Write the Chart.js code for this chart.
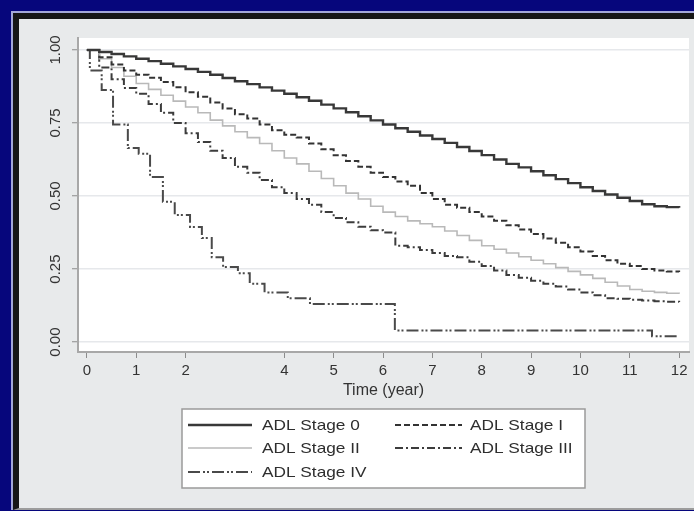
<!DOCTYPE html>
<html>
<head>
<meta charset="utf-8">
<script src="https://cdn.jsdelivr.net/npm/chart.js@4/dist/chart.umd.min.js"></script>
<style>
  html, body { margin: 0; padding: 0; }
  body { width: 694px; height: 511px; background: #06067c; position: relative; overflow: hidden; }
  #frame { position: absolute; left: 11px; top: 11px; right: -20px; bottom: 1px; border-left: 2px solid #a3a7d8; border-top: 2px solid #a3a7d8; }
  #panel { position: absolute; left: 0; top: 0; right: 0; bottom: 0; background: #e8eaeb; border-left: 6px solid #161616; border-top: 6px solid #161616; border-bottom: 2px solid #9c9c9c; }
  #wrap { position: absolute; left: 0; top: 0; width: 694px; height: 511px; }
</style>
</head>
<body>
<div id="frame"><div id="panel"></div></div>
<div id="wrap"><canvas id="grafico-sobrevida" width="694" height="511"></canvas></div>
<script>
// tempos (anos) das curvas de Kaplan-Meier, lidos a cada 0,25 ano
const tempos = [0, 0.25, 0.5, 0.75, 1, 1.25, 1.5, 1.75, 2, 2.25, 2.5, 2.75, 3, 3.25, 3.5, 3.75, 4, 4.25, 4.5, 4.75, 5, 5.25, 5.5, 5.75, 6, 6.25, 6.5, 6.75, 7, 7.25, 7.5, 7.75, 8, 8.25, 8.5, 8.75, 9, 9.25, 9.5, 9.75, 10, 10.25, 10.5, 10.75, 11, 11.25, 11.5, 11.75, 12];
const estagio0   = [1.000, 0.993, 0.986, 0.978, 0.970, 0.962, 0.953, 0.944, 0.935, 0.925, 0.915, 0.904, 0.893, 0.883, 0.872, 0.861, 0.850, 0.838, 0.826, 0.813, 0.800, 0.787, 0.773, 0.759, 0.745, 0.732, 0.720, 0.707, 0.695, 0.682, 0.668, 0.654, 0.640, 0.625, 0.610, 0.598, 0.585, 0.571, 0.558, 0.544, 0.530, 0.517, 0.505, 0.494, 0.483, 0.472, 0.465, 0.462, 0.460];
const estagioI   = [1.000, 0.975, 0.950, 0.930, 0.915, 0.905, 0.890, 0.872, 0.855, 0.840, 0.820, 0.800, 0.780, 0.765, 0.745, 0.725, 0.710, 0.700, 0.680, 0.660, 0.640, 0.620, 0.600, 0.580, 0.565, 0.550, 0.535, 0.510, 0.490, 0.470, 0.460, 0.445, 0.430, 0.415, 0.400, 0.385, 0.370, 0.355, 0.340, 0.325, 0.310, 0.295, 0.280, 0.268, 0.260, 0.250, 0.245, 0.242, 0.240];
const estagioII  = [1.000, 0.970, 0.940, 0.910, 0.885, 0.865, 0.845, 0.825, 0.805, 0.785, 0.760, 0.740, 0.720, 0.700, 0.680, 0.655, 0.630, 0.610, 0.585, 0.560, 0.535, 0.510, 0.490, 0.465, 0.445, 0.430, 0.415, 0.405, 0.395, 0.380, 0.365, 0.348, 0.330, 0.318, 0.305, 0.292, 0.280, 0.268, 0.255, 0.242, 0.230, 0.218, 0.205, 0.192, 0.180, 0.174, 0.170, 0.167, 0.165];
const estagioIII = [1.000, 0.940, 0.900, 0.870, 0.850, 0.815, 0.785, 0.750, 0.715, 0.685, 0.655, 0.630, 0.600, 0.580, 0.555, 0.530, 0.510, 0.490, 0.470, 0.445, 0.425, 0.410, 0.395, 0.383, 0.375, 0.330, 0.325, 0.315, 0.305, 0.295, 0.290, 0.275, 0.260, 0.245, 0.230, 0.220, 0.210, 0.200, 0.190, 0.180, 0.170, 0.160, 0.150, 0.148, 0.145, 0.142, 0.140, 0.138, 0.137];
// estágio IV tem degraus grandes, com tempos próprios
const temposIV  = [0, 0.06, 0.3, 0.53, 0.83, 1.05, 1.28, 1.54, 1.78, 2.09, 2.33, 2.53, 2.76, 3.06, 3.3, 3.6, 4.07, 4.52, 6.24, 11.45, 12];
const estagioIV = [1.00, 0.93, 0.863, 0.745, 0.664, 0.645, 0.565, 0.48, 0.435, 0.394, 0.356, 0.29, 0.257, 0.236, 0.20, 0.17, 0.15, 0.13, 0.04, 0.02, 0.02];

const rotulosSeries = ['ADL Stage 0', 'ADL Stage I', 'ADL Stage II', 'ADL Stage III', 'ADL Stage IV'];
const ticksX = [0, 1, 2, 4, 5, 6, 7, 8, 9, 10, 11, 12];
const ticksY = [0, 0.25, 0.5, 0.75, 1];

const fonte = "'Liberation Sans', Arial, sans-serif";
const pares = (xs, ys) => xs.map((x, i) => ({ x: x, y: ys[i] }));

const estilos = [
  { borderColor: '#383838', borderWidth: 2.4, borderDash: [] },
  { borderColor: '#333333', borderWidth: 2, borderDash: [6, 3] },
  { borderColor: '#b9b9b9', borderWidth: 1.6, borderDash: [] },
  { borderColor: '#3c3c3c', borderWidth: 2, borderDash: [8, 3, 2, 3] },
  { borderColor: '#4a4a4a', borderWidth: 2, borderDash: [12, 3, 2, 2, 2, 3] }
];
const dadosSeries = [
  pares(tempos, estagio0), pares(tempos, estagioI), pares(tempos, estagioII),
  pares(tempos, estagioIII), pares(temposIV, estagioIV)
];

const fundoPlot = {
  id: 'fundoPlot',
  beforeDraw(chart) {
    const { ctx, chartArea: a } = chart;
    ctx.save();
    ctx.fillStyle = '#ffffff';
    ctx.fillRect(a.left, a.top, a.right - a.left, a.bottom - a.top);
    ctx.restore();
  }
};

// legenda em caixa de duas colunas abaixo do título do eixo x
const legendaCaixa = {
  id: 'legendaCaixa',
  afterDraw(chart) {
    const ctx = chart.ctx;
    const caixa = { x: 182, y: 409, w: 403, h: 79 };
    ctx.save();
    ctx.fillStyle = '#ffffff';
    ctx.fillRect(caixa.x, caixa.y, caixa.w, caixa.h);
    ctx.strokeStyle = '#9a9a9a';
    ctx.lineWidth = 1.5;
    ctx.strokeRect(caixa.x, caixa.y, caixa.w, caixa.h);
    const linhas = [425, 448, 472];
    const colunas = [{ l0: 188, l1: 252, t: 262 }, { l0: 395, l1: 462, t: 470 }];
    chart.data.datasets.forEach((ds, i) => {
      const c = colunas[i % 2];
      const y = linhas[Math.floor(i / 2)];
      ctx.beginPath();
      ctx.strokeStyle = ds.borderColor;
      ctx.lineWidth = ds.borderWidth;
      ctx.setLineDash(ds.borderDash);
      ctx.moveTo(c.l0, y);
      ctx.lineTo(c.l1, y);
      ctx.stroke();
      ctx.setLineDash([]);
      // texto um pouco alargado, como no original
      ctx.save();
      ctx.translate(c.t, y + 1);
      ctx.scale(1.15, 1);
      ctx.fillStyle = '#2e2e2e';
      ctx.font = '15px ' + fonte;
      ctx.textBaseline = 'middle';
      ctx.textAlign = 'left';
      ctx.fillText(ds.label, 0, 0);
      ctx.restore();
    });
    ctx.restore();
  }
};

const ctxSobrevida = document.getElementById('grafico-sobrevida').getContext('2d');
window.graficoSobrevida = new Chart(ctxSobrevida, {
  type: 'line',
  plugins: [fundoPlot, legendaCaixa],
  data: {
    datasets: rotulosSeries.map((rotulo, i) => Object.assign({
      label: rotulo,
      data: dadosSeries[i],
      stepped: true,
      pointRadius: 0,
      fill: false,
      borderCapStyle: 'butt'
    }, estilos[i]))
  },
  options: {
    responsive: false,
    animation: false,
    layout: { padding: { left: 0, right: 5, top: 38, bottom: 111 } },
    plugins: { legend: { display: false }, tooltip: { enabled: false } },
    scales: {
      x: {
        type: 'linear', min: -0.18, max: 12.2,
        afterBuildTicks: (s) => { s.ticks = ticksX.map(v => ({ value: v })); },
        afterFit: (s) => { s.height = 48; },
        ticks: { color: '#333333', font: { family: fonte, size: 15 }, padding: 4, maxRotation: 0, autoSkip: false },
        grid: { drawOnChartArea: false, tickLength: 6, tickColor: '#8c8c8c', tickWidth: 1 },
        border: { color: '#a8a8a8', width: 2 },
        title: { display: true, text: 'Time (year)', color: '#333333', font: { family: fonte, size: 16 }, padding: { top: 0, bottom: 0 } }
      },
      y: {
        type: 'linear', min: -0.034, max: 1.041,
        afterBuildTicks: (s) => { s.ticks = ticksY.map(v => ({ value: v })); },
        afterFit: (s) => { s.width = 78; },
        ticks: {
          color: '#333333', font: { family: fonte, size: 15 }, padding: 2,
          minRotation: 90, maxRotation: 90, crossAlign: 'center',
          callback: (v) => v.toFixed(2)
        },
        grid: { color: '#e6e8eb', lineWidth: 1.5, tickLength: 6, tickColor: '#8c8c8c', tickWidth: 1 },
        border: { color: '#a8a8a8', width: 2 }
      }
    }
  }
});
</script>
</body>
</html>
